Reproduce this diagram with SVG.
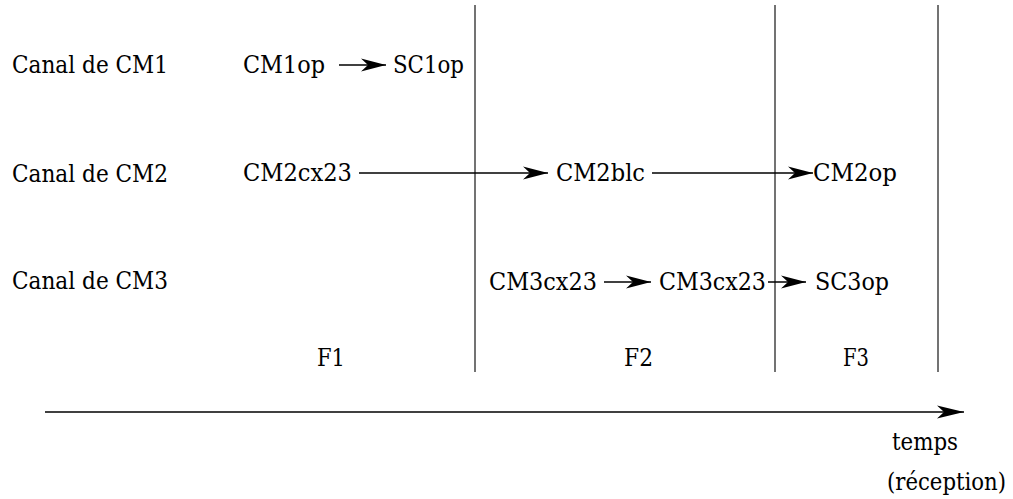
<svg xmlns="http://www.w3.org/2000/svg" width="1013" height="499" viewBox="0 0 1013 499">
<style>
.sep{stroke:#444;stroke-width:1.5;fill:none}
.c{stroke:#000;stroke-width:1.3;fill:none;marker-end:url(#ah)}
.t{stroke:#000;stroke-width:1.6;fill:none;marker-end:url(#ahT)}
text{font-family:'DejaVu Serif',serif;font-size:24px;fill:#000}
</style>
<defs>
<marker id="ah" markerUnits="userSpaceOnUse" viewBox="-25 -8 27 16" refX="0" refY="0" markerWidth="27" markerHeight="16" orient="auto" overflow="visible">
<path d="M0,0 L-25,-6.5 L-18,0 L-25,6.5 Z" fill="#000"/>
</marker>
<marker id="ahT" markerUnits="userSpaceOnUse" viewBox="-27 -8 29 16" refX="0" refY="0" markerWidth="29" markerHeight="16" orient="auto" overflow="visible">
<path d="M0,0 L-27,-6.5 L-20,0 L-27,6.5 Z" fill="#000"/>
</marker>
</defs>
<g id="separators">
<line class="sep" x1="475" y1="5" x2="475" y2="372"/>
<line class="sep" x1="775" y1="5" x2="775" y2="372"/>
<line class="sep" x1="938" y1="5" x2="938" y2="372"/>
</g>
<g id="labels">
<text x="12" y="73" textLength="156" lengthAdjust="spacingAndGlyphs">Canal de CM1</text>
<text x="12" y="182" textLength="156" lengthAdjust="spacingAndGlyphs">Canal de CM2</text>
<text x="12" y="289" textLength="156" lengthAdjust="spacingAndGlyphs">Canal de CM3</text>
<text x="317" y="366" textLength="28" lengthAdjust="spacingAndGlyphs">F1</text>
<text x="624" y="366" textLength="29" lengthAdjust="spacingAndGlyphs">F2</text>
<text x="843" y="366" textLength="26" lengthAdjust="spacingAndGlyphs">F3</text>
<text x="892" y="450" textLength="66" lengthAdjust="spacingAndGlyphs">temps</text>
<text x="887" y="490" font-size="22" textLength="119" lengthAdjust="spacingAndGlyphs">(réception)</text>
</g>
<g id="n-CM1op"><text x="243" y="73" textLength="82" lengthAdjust="spacingAndGlyphs">CM1op</text></g>
<g id="n-SC1op"><text x="393" y="73" textLength="71" lengthAdjust="spacingAndGlyphs">SC1op</text></g>
<g id="n-CM2cx23"><text x="243" y="181" textLength="109" lengthAdjust="spacingAndGlyphs">CM2cx23</text></g>
<g id="n-CM2blc"><text x="556" y="181" textLength="89" lengthAdjust="spacingAndGlyphs">CM2blc</text></g>
<g id="n-CM2op"><text x="813" y="181" textLength="84" lengthAdjust="spacingAndGlyphs">CM2op</text></g>
<g id="n-CM3cx23a"><text x="489" y="290" textLength="108" lengthAdjust="spacingAndGlyphs">CM3cx23</text></g>
<g id="n-CM3cx23b"><text x="659" y="290" textLength="107" lengthAdjust="spacingAndGlyphs">CM3cx23</text></g>
<g id="n-SC3op"><text x="815" y="290" textLength="74" lengthAdjust="spacingAndGlyphs">SC3op</text></g>
<g id="connectors">
<line class="c" x1="339" y1="65" x2="386" y2="65"/>
<line class="c" x1="359" y1="173" x2="548" y2="173"/>
<line class="c" x1="652" y1="173" x2="813" y2="173"/>
<line class="c" x1="604" y1="282" x2="651" y2="282"/>
<line class="c" x1="768" y1="282" x2="806" y2="282"/>
<line class="t" x1="45" y1="412" x2="964" y2="412"/>
</g>
</svg>
